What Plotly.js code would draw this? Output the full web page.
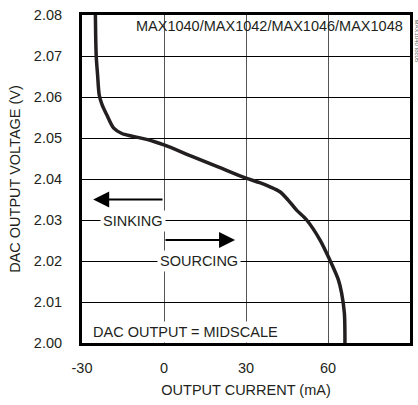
<!DOCTYPE html>
<html>
<head>
<meta charset="utf-8">
<script src="https://cdn.plot.ly/plotly-3.0.1.min.js"></script>
<style>
html,body{margin:0;padding:0;background:#fff;}
#chart{width:418px;height:405px;}
</style>
</head>
<body>
<div id="chart"></div>
<script>
// Output current (mA) vs DAC output voltage (V)
const currentMA = [-25.1, -25.0, -24.8, -24.3, -23.7, -22.6, -20.9, -18.4, -15.4, -12.0, -8.0, -4.0, 0, 10, 20, 30, 35, 38.8, 42.4, 45.5, 48.5, 52.2, 57.1, 60.7, 63.8, 65.0, 66.0, 66.2];
const voltageV  = [2.080, 2.075, 2.070, 2.0654, 2.0605, 2.0580, 2.0556, 2.0524, 2.0511, 2.0505, 2.0499, 2.0492, 2.0483, 2.0456, 2.0429, 2.0402, 2.0391, 2.0381, 2.0369, 2.0348, 2.0324, 2.0300, 2.0251, 2.0202, 2.0154, 2.0121, 2.0072, 2.000];

const xTicks = [-30, 0, 30, 60, 90];
const yTicks = [2.00, 2.01, 2.02, 2.03, 2.04, 2.05, 2.06, 2.07, 2.08];

const chartTitle = "MAX1040/MAX1042/MAX1046/MAX1048";
const noteText = "DAC OUTPUT = MIDSCALE";
const sinkLabel = "SINKING";
const sourceLabel = "SOURCING";
const figCode = "MAX1040 toc05";
const xTitle = "OUTPUT CURRENT (mA)";
const yTitle = "DAC OUTPUT VOLTAGE (V)";

// arrows: [start x, start y, tip x, tip y]
const sinkArrow = [0, 2.0350, -25.9, 2.0350];
const sourceArrow = [0, 2.0251, 26.0, 2.0251];

const FONT = "'Liberation Sans Narrow', 'Arial Narrow', 'Liberation Sans', Arial, sans-serif";
const TXT = '#231f20';
const FS = 14.5;

const trace = {
  x: currentMA, y: voltageV, type: 'scatter', mode: 'lines',
  line: {color: '#231f20', width: 3.5, shape: 'spline', smoothing: 0.8},
  hoverinfo: 'skip', showlegend: false
};

const layout = {
  width: 418, height: 405,
  margin: {l: 82, r: 8, t: 15, b: 62},
  paper_bgcolor: '#fff', plot_bgcolor: '#fff',
  font: {family: FONT, size: FS, color: TXT},
  showlegend: false,
  xaxis: {
    range: [-30, 90], tickvals: xTicks, ticktext: xTicks.map(String),
    showgrid: true, gridcolor: '#555', gridwidth: 1,
    zeroline: false, showline: true, mirror: true, linecolor: '#000', linewidth: 3,
    ticks: '', ticklen: 0, ticklabelstandoff: 10, tickfont: {family: FONT, size: FS, color: TXT},
    title: {text: xTitle, font: {family: FONT, size: FS, color: TXT}, standoff: 10},
    fixedrange: true
  },
  yaxis: {
    range: [2.00, 2.08], tickvals: yTicks, ticktext: yTicks.map(v => v.toFixed(2)),
    showgrid: true, gridcolor: '#000', gridwidth: 1,
    zeroline: false, showline: true, mirror: true, linecolor: '#000', linewidth: 3,
    ticks: '', ticklen: 0, ticklabelstandoff: 14, tickfont: {family: FONT, size: FS, color: TXT},
    title: {text: yTitle, font: {family: FONT, size: FS, color: TXT}, standoff: 10},
    fixedrange: true
  },
  annotations: [
    {x: 1, xref: 'paper', y: 2.0774, yref: 'y', xanchor: 'right', yanchor: 'middle',
     text: chartTitle, showarrow: false, font: {family: FONT, size: FS, color: TXT}, xshift: -5},
    {x: -30, xref: 'x', y: 2.0028, yref: 'y', xanchor: 'left', yanchor: 'middle',
     text: noteText, showarrow: false, bgcolor: '#fff', borderpad: 2,
     font: {family: FONT, size: FS, color: TXT}, xshift: 8},
    {x: -11.3, xref: 'x', y: 2.0298, yref: 'y', xanchor: 'center', yanchor: 'middle',
     text: sinkLabel, showarrow: false, bgcolor: '#fff', borderpad: 2,
     font: {family: FONT, size: FS, color: TXT}},
    {x: 12.9, xref: 'x', y: 2.0201, yref: 'y', xanchor: 'center', yanchor: 'middle',
     text: sourceLabel, showarrow: false, bgcolor: '#fff', borderpad: 2,
     font: {family: FONT, size: FS, color: TXT}},
    {x: sinkArrow[2], y: sinkArrow[3], xref: 'x', yref: 'y',
     ax: sinkArrow[0], ay: sinkArrow[1], axref: 'x', ayref: 'y',
     text: '', showarrow: true, arrowhead: 2, arrowsize: 1.6, arrowwidth: 2, arrowcolor: '#000'},
    {x: sourceArrow[2], y: sourceArrow[3], xref: 'x', yref: 'y',
     ax: sourceArrow[0], ay: sourceArrow[1], axref: 'x', ayref: 'y',
     text: '', showarrow: true, arrowhead: 2, arrowsize: 1.6, arrowwidth: 2, arrowcolor: '#000'},
    {x: 1, xref: 'paper', y: 1, yref: 'paper', xanchor: 'left', yanchor: 'top',
     text: figCode, textangle: 90, showarrow: false, xshift: 2, yshift: -2,
     font: {family: FONT, size: 6, color: '#666'}}
  ]
};

Plotly.newPlot('chart', [trace], layout, {displayModeBar: false, staticPlot: true});
</script>
</body>
</html>
